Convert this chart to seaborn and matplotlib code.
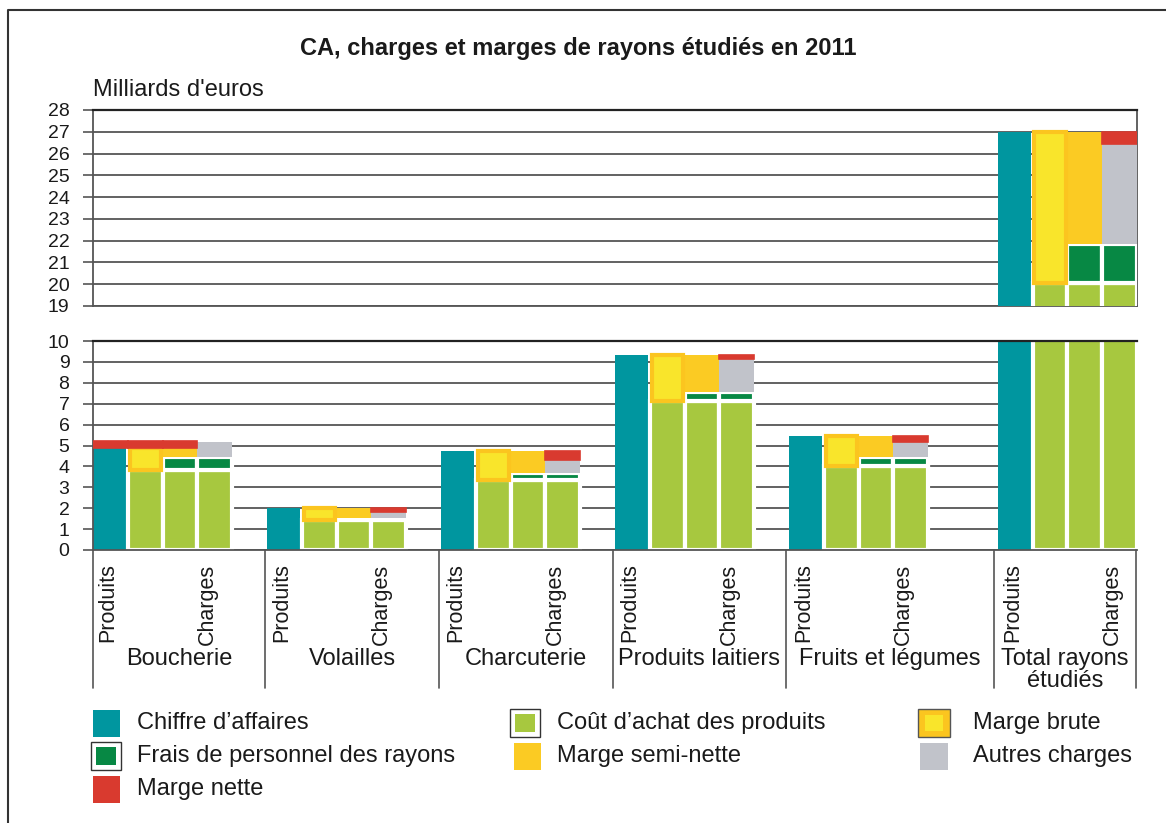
import matplotlib.pyplot as plt
import seaborn as sns
import pandas as pd
import numpy as np
import matplotlib.transforms as mtransforms
from matplotlib.patches import Rectangle
from matplotlib.lines import Line2D

# data (milliards d'euros)
categories = ["Boucherie", "Volailles", "Charcuterie", "Produits laitiers",
              "Fruits et légumes", "Total rayons\nétudiés"]
chiffre_affaires = [4.90, 2.00, 4.72, 9.34, 5.47, 27.00]
cout_achat = [3.85, 1.44, 3.35, 7.15, 4.00, 20.05]
marge_brute = [1.05, 0.56, 1.37, 2.19, 1.47, 6.95]
frais_personnel = [0.58, 0.11, 0.35, 0.41, 0.43, 1.80]
marge_semi_nette = [0.47, 0.45, 1.02, 1.78, 1.04, 5.15]
autres_charges = [0.75, 0.25, 0.63, 1.57, 0.75, 4.60]
marge_nette = [-0.30, 0.20, 0.39, 0.21, 0.29, 0.55]

bar_labels = ["Produits", "Charges"]
legend_labels = ["Chiffre d\u2019affaires", "Coût d\u2019achat des produits", "Marge brute",
                 "Frais de personnel des rayons", "Marge semi-nette", "Autres charges",
                 "Marge nette"]
title = "CA, charges et marges de rayons étudiés en 2011"
unit = "Milliards d'euros"

sns.set_style("white")
plt.rcParams['font.family'] = ['Liberation Sans', 'DejaVu Sans']
txt = '#1a1a1a'

teal = "#00969F"
vert = "#A7C83F"
vert_fonce = "#078844"
jaune = "#F9E52B"
orange = "#FBC51F"
semi = "#FBCB23"
gris = "#C1C3CA"
rouge = "#D93A2F"

W, H = 1166, 823
def fx(px):
    return px / W
def fy(py):
    return 1 - py / H

# layout: 4 bars per rayon, a wider gap before the total
starts = np.array([0, 5, 10, 15, 20, 26])
bounds = [0, 4.95, 9.95, 14.95, 19.9, 25.9, 29.97]
ca_w = 0.96
edge_w = 3.0

fig = plt.figure(figsize=(W / 100, H / 100), dpi=100)
ax_top = fig.add_axes([fx(93), fy(306), 1044 / W, 196 / H])
ax_bot = fig.add_axes([fx(93), fy(550), 1044 / W, 209 / H])

ca_df = pd.DataFrame({'x': starts + ca_w / 2, 'y': chiffre_affaires})
achat_df = pd.DataFrame({'x': np.concatenate([starts + k + 0.5 for k in (1, 2, 3)]),
                         'y': cout_achat * 3})


def draw(ax):
    sns.barplot(data=ca_df, x='x', y='y', native_scale=True,
                width=ca_w / np.diff(ca_df['x']).min(), color=teal, saturation=1,
                errorbar=None, linewidth=0, zorder=2, ax=ax)
    sns.barplot(data=achat_df, x='x', y='y', native_scale=True, width=1.0,
                color=vert, saturation=1, errorbar=None, edgecolor='white',
                linewidth=edge_w, zorder=2, ax=ax)
    for i, s in enumerate(starts):
        a = cout_achat[i]
        p = frais_personnel[i]
        ax.bar(s + 1.5, marge_brute[i], bottom=a, width=0.9, color=jaune,
               edgecolor=orange, linewidth=3.0, zorder=5)
        ax.bar([s + 2.5, s + 3.5], p, bottom=a, width=1.0, color=vert_fonce,
               edgecolor='white', linewidth=edge_w, zorder=3)
        ax.bar(s + 2.5, marge_semi_nette[i], bottom=a + p, width=1.0, color=semi,
               linewidth=0, zorder=4)
        ax.bar(s + 3.5, autres_charges[i], bottom=a + p, width=1.0, color=gris,
               linewidth=0, zorder=4)
        n = marge_nette[i]
        if n >= 0:
            ax.bar(s + 3.5, n, bottom=a + p + autres_charges[i], width=1.0,
                   color=rouge, edgecolor=rouge, linewidth=1.2, zorder=6)
        else:
            ax.bar(s + np.array([0.5, 1.5, 2.5]), -n, bottom=chiffre_affaires[i],
                   width=1.0, color=rouge, edgecolor=rouge, linewidth=1.2, zorder=6)
    ax.set_xlim(0, 30)
    ax.set_xlabel('')
    ax.set_ylabel('')
    ax.set_xticks([])
    ax.set_axisbelow(True)
    ax.yaxis.grid(True, color='#555555', linewidth=1.3)
    ax.tick_params(axis='y', direction='out', length=7, width=1.2, color='#555555',
                   pad=10, labelsize=14, labelcolor=txt, left=True)
    for sp in ax.spines.values():
        sp.set_color('#555555')
        sp.set_linewidth(1.3)
    ax.spines['top'].set_color('#222222')
    ax.spines['top'].set_linewidth(1.6)


draw(ax_top)
draw(ax_bot)

ax_top.set_ylim(19, 28)
ax_top.set_yticks(range(19, 29))
ax_top.spines['right'].set_zorder(1)
ax_top.spines['bottom'].set_zorder(1)

ax_bot.set_ylim(0, 10)
ax_bot.set_yticks(range(0, 11))
ax_bot.spines['right'].set_visible(False)

# category axis below the lower panel
trans = mtransforms.blended_transform_factory(ax_bot.transData, ax_bot.transAxes)
for b in bounds:
    ax_bot.add_line(Line2D([b, b], [0, -0.66], transform=trans, color='#555555',
                           linewidth=1.2, clip_on=False))
for i, s in enumerate(starts):
    ax_bot.text(s + 0.42, -0.065, bar_labels[0], rotation=90, ha='center', va='top',
                fontsize=15.5, color=txt, transform=trans)
    ax_bot.text(s + 3.3, -0.065, bar_labels[1], rotation=90, ha='center', va='top',
                fontsize=15.5, color=txt, transform=trans)
    mid = (bounds[i] + bounds[i + 1]) / 2
    ax_bot.text(mid, -0.47, categories[i], ha='center', va='top', fontsize=17,
                color=txt, linespacing=1.0, transform=trans)

fig.text(fx(578), fy(48), title, ha='center', va='center', fontsize=17,
         fontweight='bold', color=txt)
fig.text(fx(93), fy(90), unit, ha='left', va='center', fontsize=17, color=txt)


# legend drawn by hand (three columns)
def box(x, y, w, h, **kw):
    fig.add_artist(Rectangle((fx(x), fy(y + h)), w / W, h / H,
                             transform=fig.transFigure, **kw))


def framed(x, y, fill):
    box(x, y, 30, 28, facecolor='white', edgecolor='#333333', linewidth=1.0)
    box(x + 5, y + 5, 20, 18, facecolor=fill, linewidth=0)


rows = [723, 756, 789]
box(93, rows[0] - 13, 27, 27, facecolor=teal, linewidth=0)
framed(510, rows[0] - 14, vert)
box(918, rows[0] - 14, 32, 28, facecolor=orange, edgecolor='#555555', linewidth=1.0)
box(925, rows[0] - 8, 18, 16, facecolor=jaune, linewidth=0)
framed(91, rows[1] - 14, vert_fonce)
box(514, rows[1] - 13, 27, 27, facecolor=semi, linewidth=0)
box(920, rows[1] - 13, 28, 27, facecolor=gris, linewidth=0)
box(93, rows[2] - 13, 27, 27, facecolor=rouge, linewidth=0)

text_pos = [(137, rows[0]), (557, rows[0]), (973, rows[0]),
            (137, rows[1]), (557, rows[1]), (973, rows[1]),
            (137, rows[2])]
for lab, (x, y) in zip(legend_labels, text_pos):
    fig.text(fx(x), fy(y), lab, ha='left', va='center', fontsize=17, color=txt)

# outer frame
fig.add_artist(Line2D([fx(8), fx(8), fx(1166)], [fy(823), fy(10), fy(10)],
                      transform=fig.transFigure, color='#333333', linewidth=1.5))

fig.savefig("out.png", dpi=100)
